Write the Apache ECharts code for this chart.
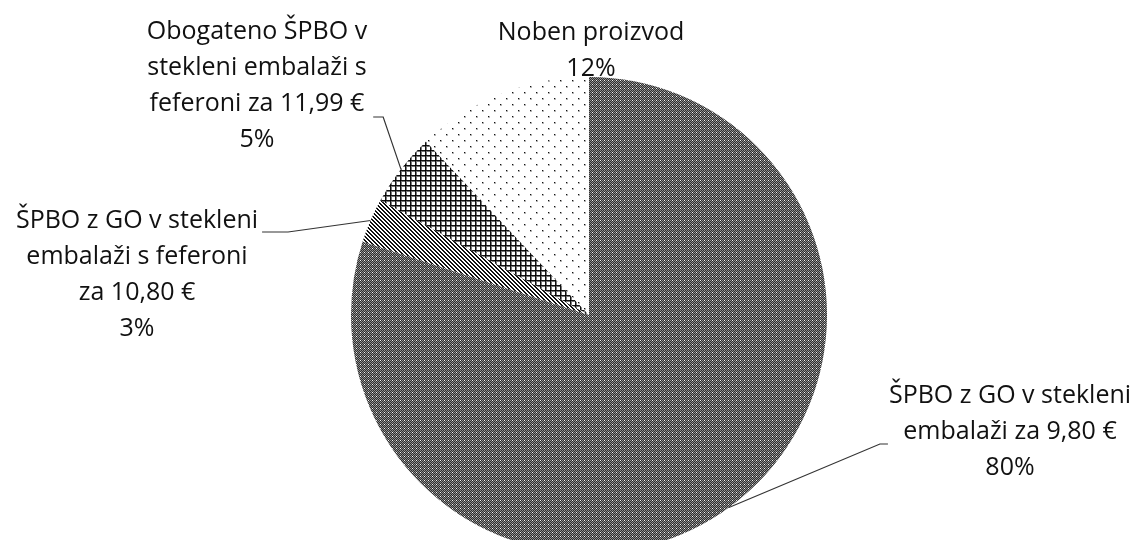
<!DOCTYPE html>
<html>
<head>
<meta charset="utf-8">
<script src="https://cdn.jsdelivr.net/npm/echarts@6/dist/echarts.min.js"></script>
<style>
  html, body { margin: 0; padding: 0; background: #fff; }
  #chart { width: 1135px; height: 540px; }
</style>
</head>
<body>
<div id="chart"></div>
<script>
// Product choice shares (percent of respondents)
const categories = [
  'ŠPBO z GO v stekleni\nembalaži za 9,80 €',
  'ŠPBO z GO v stekleni\nembalaži s feferoni\nza 10,80 €',
  'Obogateno ŠPBO v\nstekleni embalaži s\nfeferoni za 11,99 €',
  'Noben proizvod'
];
const shares = [80, 3, 5, 12];

// Monochrome fill patterns, one per slice
function makePattern(size, paint) {
  const c = document.createElement('canvas');
  c.width = size; c.height = size;
  const g = c.getContext('2d');
  g.fillStyle = '#fff';
  g.fillRect(0, 0, size, size);
  paint(g, size);
  return { image: c, repeat: 'repeat' };
}
function px(g, x, y, col) { g.fillStyle = col; g.fillRect(x, y, 1, 1); }

// dense grey stipple
const densePattern = makePattern(4, function (g) {
  const K = '#2e2e2e', G = '#8e8e8e', W = '#f4f4f4';
  const m = [
    [W, K, G, K],
    [K, G, K, G],
    [G, K, G, K],
    [K, G, K, G]
  ];
  for (let y = 0; y < 4; y++) for (let x = 0; x < 4; x++) px(g, x, y, m[y][x]);
});
// downward diagonal stripes
const stripePattern = makePattern(4, function (g) {
  for (let i = 0; i < 4; i++) {
    px(g, i, i, '#111');
    px(g, (i + 1) % 4, i, '#111');
  }
});
// square grid
const gridPattern = makePattern(5, function (g) {
  for (let i = 0; i < 5; i++) {
    px(g, i, 0, '#111');
    px(g, 0, i, '#111');
    px(g, i, 1, '#777');
    px(g, 1, i, '#777');
  }
  px(g, 0, 0, '#000');
  px(g, 1, 0, '#111');
  px(g, 0, 1, '#111');
});
// sparse dots
const dotPattern = makePattern(12, function (g) {
  [[2, 2], [8, 8]].forEach(function (d) {
    px(g, d[0] + 1, d[1], '#aaa');
    px(g, d[0], d[1] + 1, '#aaa');
    px(g, d[0] + 1, d[1] + 1, '#bbb');
    px(g, d[0], d[1], '#111');
  });
});
const patterns = [densePattern, stripePattern, gridPattern, dotPattern];

// label block centres (x, y) in pixels
const labelPos = [[1010, 432], [137, 275], [257, 86], [591, 51]];

const chart = echarts.init(document.getElementById('chart'), null, { renderer: 'canvas' });

chart.setOption({
  animation: false,
  backgroundColor: '#ffffff',
  series: [{
    type: 'pie',
    center: [589, 315],
    radius: 238,
    startAngle: 90,
    clockwise: true,
    avoidLabelOverlap: false,
    itemStyle: { borderWidth: 0 },
    label: {
      show: true,
      position: 'outside',
      color: '#111',
      fontFamily: 'Open Sans',
      fontSize: 25,
      lineHeight: 36,
      align: 'center',
      formatter: function (p) { return p.name + '\n' + Math.round(p.percent) + '%'; }
    },
    labelLine: {
      show: true,
      length: 20,
      length2: 20,
      smooth: false,
      lineStyle: { color: '#333', width: 1.2 }
    },
    labelLayout: function (params) {
      const i = params.dataIndex;
      const pos = labelPos[i];
      const w = params.labelRect.width;
      const out = { x: pos[0], y: pos[1], align: 'center', verticalAlign: 'middle' };
      const pts = params.labelLinePoints;
      if (pts && pts.length) {
        const anchor = pts[0];
        const left = pos[0] - w / 2, right = pos[0] + w / 2;
        if (i === 0) {
          out.labelLinePoints = [anchor, [left - 9, pos[1] + 12], [left - 1, pos[1] + 12]];
        } else if (i === 1) {
          out.labelLinePoints = [anchor, [right + 30, pos[1] - 43], [right + 4, pos[1] - 43]];
        } else if (i === 2) {
          out.labelLinePoints = [anchor, [right + 16, pos[1] + 31], [right + 6, pos[1] + 31]];
        }
      }
      return out;
    },
    emphasis: { disabled: true },
    data: categories.map(function (name, i) {
      const item = { name: name, value: shares[i], itemStyle: { color: patterns[i] } };
      if (i === 3) item.labelLine = { show: false };
      return item;
    })
  }]
});
</script>
</body>
</html>
